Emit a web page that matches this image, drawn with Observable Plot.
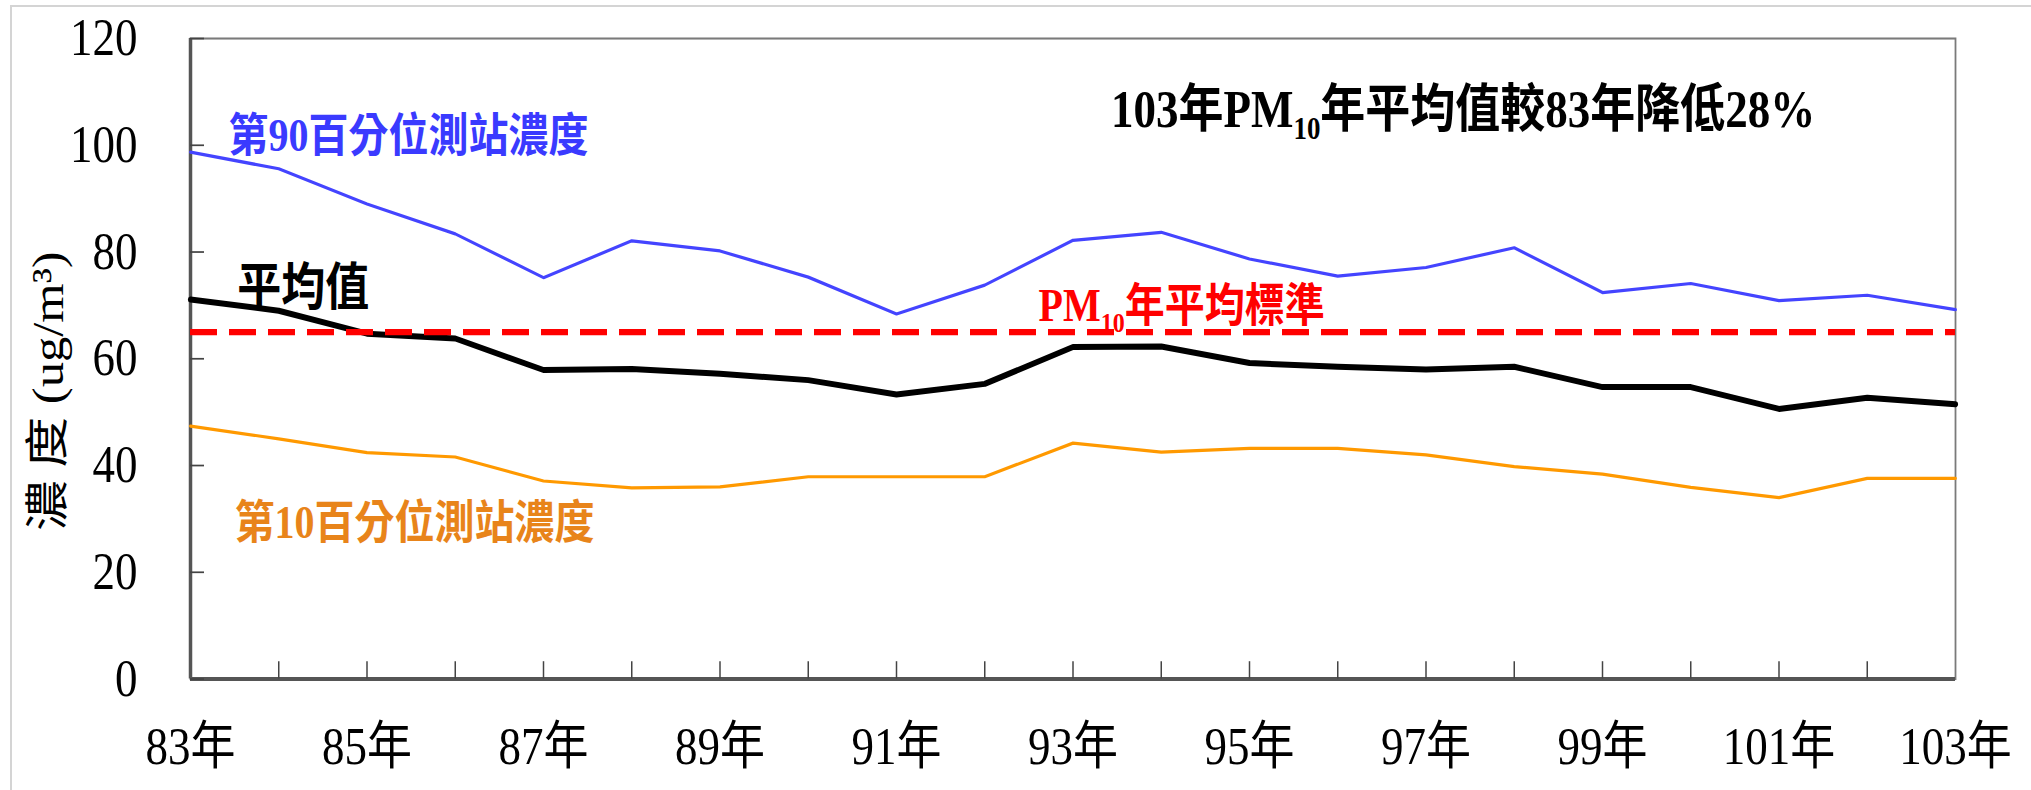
<!DOCTYPE html>
<html><head><meta charset="utf-8">
<script src="https://cdn.jsdelivr.net/npm/d3@7"></script>
<script src="https://cdn.jsdelivr.net/npm/@observablehq/plot@0.6"></script>
<style>
html,body{margin:0;padding:0;background:#fff;}
#wrap{position:relative;width:2031px;height:790px;overflow:hidden;background:#fff;}
#wrap svg{position:absolute;left:0;top:0;}
#edge{position:absolute;left:10px;top:5px;width:2100px;height:900px;border-left:2px solid #d4d4d4;border-top:2px solid #d4d4d4;pointer-events:none;z-index:2;}
</style></head>
<body><div id="wrap"><div id="edge"></div></div>
<script>
// ---- data ----
const years = [83,84,85,86,87,88,89,90,91,92,93,94,95,96,97,98,99,100,101,102,103];
const p90  = [98.7,95.6,89.0,83.4,75.2,82.1,80.2,75.3,68.4,73.8,82.2,83.7,78.7,75.5,77.1,80.8,72.4,74.1,70.9,71.9,69.2];
const mean = [71.1,69.0,64.7,63.8,57.9,58.1,57.2,56.0,53.3,55.3,62.2,62.3,59.2,58.5,58.0,58.5,54.7,54.7,50.6,52.7,51.5];
const p10  = [47.4,45.0,42.4,41.6,37.1,35.8,36.0,37.9,37.9,37.9,44.2,42.5,43.2,43.2,42.0,39.8,38.4,35.9,34.0,37.6,37.6];
const standard = [65];
const yTicks = [0,20,40,60,80,100,120];
const xLabelYears = [83,85,87,89,91,93,95,97,99,101,103];
const xMinorYears = [84,85,86,87,88,89,90,91,92,93,94,95,96,97,98,99,100,101,102];
const yLabel = "濃 度 (ug/m³)";
const titleText = "103年PM10年平均值較83年降低28%";
const p90Label = "第90百分位測站濃度";
const meanLabel = "平均值";
const p10Label = "第10百分位測站濃度";
const stdLabel = "PM10年平均標準";

// ---- layout ----
const K = 1.15;             // vertical stretch of the reference picture
const W = 2031, H = 790;
const HI = Math.round(H / K);
const FONT = "'Liberation Serif','Noto Sans CJK TC',serif";

const svg = Plot.plot({
  width: W, height: HI,
  marginLeft: 190, marginRight: 76, marginTop: 33, marginBottom: HI - 590,
  style: {fontFamily: FONT, background: "transparent", overflow: "visible"},
  x: {domain: [83, 103]},
  y: {domain: [0, 120]},
  marks: [
    Plot.frame({stroke: "#7a7a7a", strokeWidth: 1.8}),
    Plot.ruleY([0], {stroke: "#555", strokeWidth: 3.5}),
    Plot.ruleX([83], {stroke: "#555", strokeWidth: 3.5}),
    Plot.axisY({ticks: yTicks, tickSize: 0, tickPadding: 53, fontSize: 45, fill: "#000", label: null, tickFormat: d => String(d), fontFamily: FONT}),
    Plot.axisY({ticks: yTicks, tickSize: 14, dx: 14, fill: "none", stroke: "#444", strokeWidth: 1.5, label: null}),
    Plot.axisX({ticks: xLabelYears, tickSize: 0, tickPadding: 42, fontSize: 45, fill: "#000", label: null, tickFormat: d => `${d}年`, fontFamily: FONT}),
    Plot.axisX({ticks: xMinorYears, tickSize: 15, dy: -15, fill: "none", stroke: "#444", strokeWidth: 1.5, label: null}),
    Plot.text([yLabel], {frameAnchor: "left", textAnchor: "middle", dx: -142, dy: 28, rotate: -90, text: d => d, fontSize: 44, fill: "#000", fontFamily: FONT}),
    Plot.line(years, {x: d => d, y: (d, i) => p90[i], stroke: "#4444ff", strokeWidth: 2.8}),
    Plot.line(years, {x: d => d, y: (d, i) => p10[i], stroke: "#ff9900", strokeWidth: 2.8}),
    Plot.line(years, {x: d => d, y: (d, i) => mean[i], stroke: "#000", strokeWidth: 5.2}),
    Plot.ruleY(standard, {stroke: "#ff0000", strokeWidth: 5.5, strokeDasharray: "27,12"}),
    Plot.text([{x: 83.43, y: 101.6, t: p90Label}], {x: "x", y: "y", text: "t", textAnchor: "start", fontSize: 40, fontWeight: "bold", fill: "#3a3aff", fontFamily: FONT}),
    Plot.text([{x: 83.53, y: 73.1, t: meanLabel}], {x: "x", y: "y", text: "t", textAnchor: "start", fontSize: 44, fontWeight: "bold", fill: "#000", fontFamily: FONT}),
    Plot.text([{x: 83.5, y: 29.1, t: p10Label}], {x: "x", y: "y", text: "t", textAnchor: "start", fontSize: 40, fontWeight: "bold", fill: "#e8841a", fontFamily: FONT}),
    Plot.text([{x: 92.61, y: 69.8, t: stdLabel}], {x: "x", y: "y", text: "t", textAnchor: "start", fontSize: 40, fontWeight: "bold", fill: "#ff0000", fontFamily: FONT}),
    Plot.text([{x: 93.43, y: 106.5, t: titleText}], {x: "x", y: "y", text: "t", textAnchor: "start", fontSize: 45, fontWeight: "bold", fill: "#000", fontFamily: FONT})
  ]
});

// subscript "10" in PM10
d3.select(svg).selectAll("text").each(function () {
  const t = this.textContent;
  const i = t.indexOf("PM10");
  if (i < 0 || this.querySelector("tspan")) return;
  const sel = d3.select(this);
  sel.text(null);
  sel.append("tspan").text(t.slice(0, i + 2));
  sel.append("tspan").attr("font-size", "0.6em").attr("dy", "0.38em").text("10");
  sel.append("tspan").attr("dy", "-0.228em").text(t.slice(i + 4));
});

svg.setAttribute("height", H);
svg.setAttribute("preserveAspectRatio", "none");
svg.style.width = W + "px";
svg.style.height = H + "px";
svg.style.maxWidth = "none";
document.getElementById("wrap").appendChild(svg);
</script>
</body></html>
